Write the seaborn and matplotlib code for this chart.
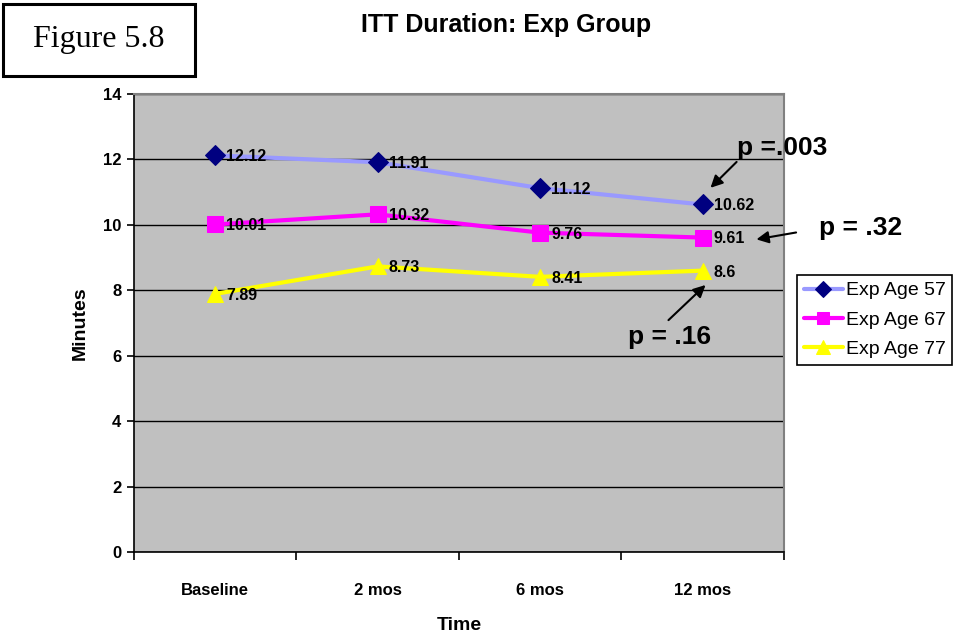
import numpy as np
import pandas as pd
import matplotlib.pyplot as plt
from matplotlib.patches import Rectangle
import seaborn as sns

# values
times = ["Baseline", "2 mos", "6 mos", "12 mos"]
age57 = [12.12, 11.91, 11.12, 10.62]
age67 = [10.01, 10.32, 9.76, 9.61]
age77 = [7.89, 8.73, 8.41, 8.6]
labels57 = ["12.12", "11.91", "11.12", "10.62"]
labels67 = ["10.01", "10.32", "9.76", "9.61"]
labels77 = ["7.89", "8.73", "8.41", "8.6"]

sns.set_style("white")
plt.rcParams["font.family"] = ["Liberation Sans", "DejaVu Sans"]
plt.rcParams["text.color"] = "black"
plt.rcParams["xtick.color"] = "black"
plt.rcParams["ytick.color"] = "black"
plt.rcParams["axes.labelcolor"] = "black"

fig = plt.figure(figsize=(9.64, 6.34), dpi=100)
ax = fig.add_axes([0.139, 0.129, 0.674, 0.723])
ax.set_facecolor("#C0C0C0")

pos = np.arange(len(times))
series = [
    ("Exp Age 57", age57, labels57, "#9999FF", "#000080", "D", 10),
    ("Exp Age 67", age67, labels67, "#FF00FF", "#FF00FF", "s", 11),
    ("Exp Age 77", age77, labels77, "#FFFF00", "#FFFF00", "^", 12),
]

for name, vals, labs, lc, mc, mk, ms in series:
    df = pd.DataFrame({"pos": pos, "val": vals})
    sns.lineplot(data=df, x="pos", y="val", ax=ax, color=lc, lw=3,
                 marker=mk, markersize=ms, markerfacecolor=mc,
                 markeredgecolor=mc, label=name, zorder=3)
    for x, y, t in zip(pos, vals, labs):
        ax.annotate(t, (x, y), xytext=(8, -1), textcoords="offset points",
                    ha="left", va="center", fontsize=11.5, fontweight="bold",
                    zorder=4)

ax.set_xlim(-0.5, 3.5)
ax.set_ylim(0, 14)
ax.set_yticks(np.arange(0, 15, 2))
ax.yaxis.grid(True, color="black", lw=1)
ax.set_axisbelow(True)
ax.set_xticks(pos)
ax.set_xticklabels(times, fontsize=12, fontweight="bold")
ax.set_xticks(np.arange(-0.5, 3.6, 1), minor=True)
ax.tick_params(axis="x", which="major", bottom=False, length=0, pad=22)
ax.tick_params(axis="x", which="minor", bottom=True, length=6, width=1.2,
               direction="out", color="black")
ax.tick_params(axis="y", left=True, length=5, width=1.2, direction="out",
               color="black", labelsize=12, pad=4)
for t in ax.get_yticklabels():
    t.set_fontweight("bold")

for s in ["left", "bottom"]:
    ax.spines[s].set_color("black")
    ax.spines[s].set_linewidth(1.2)
for s in ["top", "right"]:
    ax.spines[s].set_color("#808080")
    ax.spines[s].set_linewidth(1.5)

ax.set_xlabel("Time", fontsize=14, fontweight="bold", labelpad=14)
ax.set_ylabel("Minutes", fontsize=14, fontweight="bold", labelpad=10)

# p-value callouts
arrow = dict(arrowstyle="-|>", color="black", lw=1.5, mutation_scale=18)
ax.annotate("", xy=(3.037, 11.07), xytext=(3.222, 11.98), arrowprops=arrow, annotation_clip=False)
ax.annotate("", xy=(3.315, 9.54), xytext=(3.593, 9.78), arrowprops=arrow, annotation_clip=False)
ax.annotate("", xy=(3.031, 8.22), xytext=(2.778, 7.03), arrowprops=arrow, annotation_clip=False)
ax.text(3.49, 12.35, "p =.003", fontsize=19, fontweight="bold", ha="center", va="center", clip_on=False)
ax.text(3.97, 9.9, "p = .32", fontsize=19, fontweight="bold", ha="center", va="center", clip_on=False)
ax.text(2.796, 6.57, "p = .16", fontsize=19, fontweight="bold", ha="center", va="center", clip_on=False)

leg = ax.legend(loc="upper left", bbox_to_anchor=(797 / 964, 1 - 275 / 634),
                bbox_transform=fig.transFigure, borderaxespad=0, fancybox=False,
                framealpha=1, edgecolor="black", fontsize=14, handlelength=2.0,
                handletextpad=0.15, labelspacing=0.6, borderpad=0.35,
                markerscale=0.85)
leg.get_frame().set_linewidth(1.2)

fig.text(506 / 964, 1 - 25 / 634, "ITT Duration: Exp Group", fontsize=18,
         fontweight="bold", ha="center", va="center")
fig.patches.append(Rectangle((3 / 964, 1 - 76 / 634), 192 / 964, 72 / 634,
                             transform=fig.transFigure, fc="white", ec="black",
                             lw=2.2, figure=fig))
fig.text(99 / 964, 1 - 39 / 634, "Figure 5.8", fontsize=23, ha="center", va="center",
         family=["Liberation Serif", "DejaVu Serif"])

fig.savefig("out.png", dpi=100)
